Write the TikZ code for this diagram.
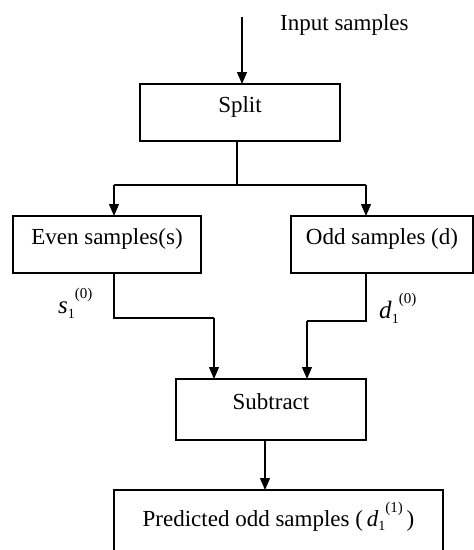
\documentclass[tikz,border=0pt]{standalone}
\usepackage{fontspec}
\setmainfont{Liberation Serif}
\usetikzlibrary{arrows.meta}

% indexed signal name: base letter, subscript 1, superscript
\newcommand{\sig}[2]{\textit{#1}\raisebox{-0.45ex}{\fontsize{14}{14}\selectfont 1}\raisebox{1.25ex}{\fontsize{15}{15}\selectfont #2}}

\tikzset{
  blk/.style={draw, line width=1.2pt, rectangle, inner sep=0pt, outer sep=0pt,
              minimum height=57pt, text height=0.7em, text depth=0.7em},
  flow/.style={line width=1.2pt, -{Triangle[length=12pt,width=10pt]}},
  wire/.style={line width=1.2pt},
}

\begin{document}
\begin{tikzpicture}[x=1pt, y=-1pt, font=\fontsize{23}{27}\selectfont]
  \useasboundingbox (0,0) rectangle (474,550);
  \clip (0,0) rectangle (474,550);

  % blocks
  \node[blk, minimum width=200pt] (split) at (240,112.5) {Split};
  \node[blk, minimum width=188pt] (even) at (107,244.5) {Even samples(s)};
  \node[blk, minimum width=182pt] (odd) at (382,244.5) {Odd samples (d)};
  \node[blk, minimum width=190pt, minimum height=61pt] (sub) at (271,409.5) {Subtract};
  \node[blk, minimum width=329pt, minimum height=72pt] (pred) at (278.5,526)
    {Predicted odd samples (\,\sig{d}{(1)}\,)};

  % input
  \coordinate (in) at (242,17);
  \node[anchor=base west, inner sep=0pt] (inlbl) at (280,30) {Input samples};
  \draw[flow] (in) -- (in |- split.north);

  % split into even and odd branches
  \coordinate (fork) at (237,185);
  \coordinate (fl) at (114,185);
  \coordinate (fr) at (366,185);
  \draw[wire] (fork |- split.south) -- (fork);
  \draw[wire] (fl) -- (fr);
  \draw[flow] (fl) -- (fl |- even.north);
  \draw[flow] (fr) -- (fr |- odd.north);

  % even and odd into the subtractor
  \coordinate (el) at (114,318);
  \coordinate (er) at (214,318);
  \coordinate (ol) at (366,321);
  \coordinate (or) at (307,321);
  \draw[wire] (el |- even.south) -- (el) -- (er);
  \draw[flow] (er) -- (er |- sub.north);
  \draw[wire] (ol |- odd.south) -- (ol) -- (or);
  \draw[flow] (or) -- (or |- sub.north);

  \node[anchor=base west, inner sep=0pt, font=\fontsize{25}{27}\selectfont] (slbl) at (58,313) {\sig{s}{(0)}};
  \node[anchor=base west, inner sep=0pt, font=\fontsize{25}{27}\selectfont] (dlbl) at (379,318) {\sig{d}{(0)}};

  % result
  \coordinate (out) at (265,440);
  \draw[flow] (out) -- (out |- pred.north);
\end{tikzpicture}
\end{document}
